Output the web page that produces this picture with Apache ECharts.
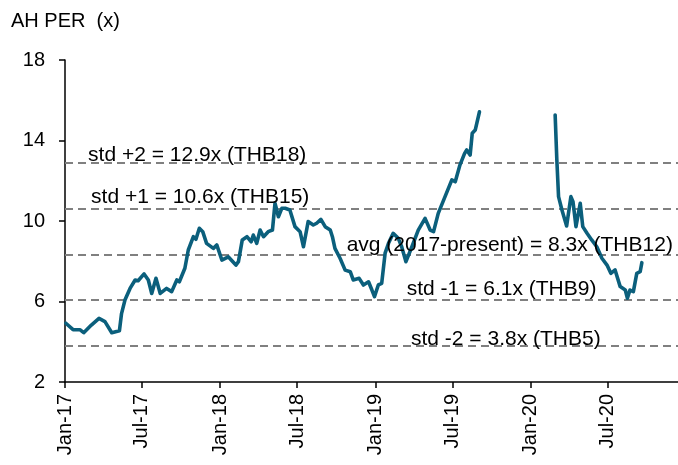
<!DOCTYPE html>
<html>
<head>
<meta charset="utf-8">
<script src="https://cdn.jsdelivr.net/npm/echarts@6/dist/echarts.min.js"></script>
<style>
html,body{margin:0;padding:0;background:#fff;}
#chart{width:678px;height:465px;}
</style>
</head>
<body>
<div id="chart"></div>
<script>
var dates = [
'2017-01-03','2017-01-20','2017-02-05','2017-02-14','2017-03-04','2017-03-22','2017-04-05','2017-04-21','2017-05-09','2017-05-14',
'2017-05-22','2017-06-03','2017-06-15','2017-06-22','2017-07-06','2017-07-16','2017-07-24','2017-08-03','2017-08-13','2017-08-28',
'2017-09-09','2017-09-21','2017-09-27','2017-10-10','2017-10-18','2017-10-30','2017-11-05','2017-11-13','2017-11-21','2017-11-30',
'2017-12-16','2017-12-24','2018-01-05','2018-01-20','2018-02-07','2018-02-13','2018-02-22','2018-03-05','2018-03-15','2018-03-20',
'2018-03-28','2018-04-05','2018-04-13','2018-04-24','2018-05-04','2018-05-10','2018-05-18','2018-05-26','2018-06-03','2018-06-14',
'2018-06-26','2018-07-08','2018-07-16','2018-07-27','2018-08-08','2018-08-16','2018-08-26','2018-09-05','2018-09-17','2018-09-22',
'2018-09-28','2018-10-10','2018-10-22','2018-11-03','2018-11-10','2018-11-24','2018-12-04','2018-12-16','2018-12-24','2018-12-30',
'2019-01-08','2019-01-16','2019-01-24','2019-02-01','2019-02-12','2019-02-24','2019-03-04','2019-03-14','2019-03-28','2019-04-12',
'2019-04-28','2019-05-10','2019-05-18','2019-05-29','2019-06-14','2019-06-30','2019-07-08','2019-07-19','2019-07-30','2019-08-04',
'2019-08-12','2019-08-17','2019-08-24','2019-09-03',
'2019-12-01',
'2020-02-28','2020-03-03','2020-03-07','2020-03-15','2020-03-26','2020-04-05','2020-04-10','2020-04-17','2020-04-27','2020-05-03',
'2020-05-13','2020-05-24','2020-06-05','2020-06-17','2020-06-29','2020-07-08','2020-07-18','2020-07-30','2020-08-11','2020-08-16',
'2020-08-22','2020-08-30','2020-09-07','2020-09-15','2020-09-19'
];
var perValues = [
4.92,4.60,4.60,4.45,4.83,5.16,5.00,4.45,4.55,5.40,
6.07,6.65,7.07,7.03,7.37,7.07,6.40,7.15,6.40,6.65,
6.49,7.07,6.98,7.65,8.56,9.22,9.09,9.64,9.47,8.89,
8.64,8.81,8.06,8.22,7.81,7.98,9.06,9.22,8.97,9.30,
8.89,9.55,9.22,9.47,9.55,10.88,10.21,10.63,10.63,10.55,
9.72,9.47,8.72,9.97,9.80,9.89,10.08,9.72,9.55,9.22,
8.64,8.15,7.56,7.48,7.07,7.15,6.82,6.98,6.57,6.24,
6.82,6.90,8.40,8.89,9.39,9.14,8.72,7.98,8.72,9.55,
10.13,9.55,9.47,10.38,11.21,12.04,11.95,12.78,13.36,13.53,
13.28,14.36,14.52,15.43,
null,
15.27,13.03,11.21,10.55,9.75,11.21,10.96,9.72,10.88,9.72,
9.39,9.06,8.72,8.15,7.81,7.40,7.57,6.74,6.57,6.16,
6.57,6.49,7.40,7.48,7.93
];
var bandNames = ['std +2','std +1','avg (2017-present)','std -1','std -2'];
var bandValues = [12.9, 10.6, 8.3, 6.1, 3.8];
var bandPrices = ['THB18','THB15','THB12','THB9','THB5'];
var tickDates = ['2017-01-01','2017-07-01','2018-01-01','2018-07-01','2019-01-01','2019-07-01','2020-01-01','2020-07-01'];
var tickLabels = ['Jan-17','Jul-17','Jan-18','Jul-18','Jan-19','Jul-19','Jan-20','Jul-20'];
var yTicks = [2, 6, 10, 14, 18];

function ts(s){ var p = s.split('-'); return Date.UTC(+p[0], +p[1]-1, +p[2]); }
var tickTs = tickDates.map(ts);
var seriesData = dates.map(function(d,i){ return [ts(d), perValues[i]]; });

// label anchor dates (layout only)
var labelAnchors = ['2017-11-08','2017-11-15','2020-12-01','2019-10-25','2019-11-04'];
var labelOffsets = [-7, -12, -10, -10, -7];
var labelAlign = ['center','center','right','center','center'];

var FONT = '"Liberation Sans", Arial, sans-serif';
var chart = echarts.init(document.getElementById('chart'), null, {renderer:'canvas'});
chart.setOption({
  animation: false,
  backgroundColor: '#ffffff',
  title: {
    text: 'AH PER  (x)', left: 6, top: 6,
    textStyle: {fontFamily: FONT, fontSize: 20, fontWeight: 'normal', color: '#000'}
  },
  grid: {left: 65, right: 0, top: 60, bottom: 83, containLabel: false},
  xAxis: {
    type: 'value',
    min: ts('2017-01-01'), max: ts('2020-12-13'),
    axisLine: {lineStyle: {color: '#000', width: 1.5}},
    axisTick: {show: true, length: 6, lineStyle: {color: '#000', width: 1.5}, customValues: tickTs},
    axisLabel: {
      customValues: tickTs, rotate: 90, margin: 12,
      fontFamily: FONT, fontSize: 20, color: '#000',
      formatter: function(v){
        var best = 0, bd = Infinity;
        for (var i=0;i<tickTs.length;i++){ var dd = Math.abs(tickTs[i]-v); if (dd<bd){bd=dd;best=i;} }
        return tickLabels[best];
      }
    },
    splitLine: {show: false}
  },
  yAxis: {
    type: 'value', min: yTicks[0], max: yTicks[yTicks.length-1], interval: 4,
    axisLine: {show: true, lineStyle: {color: '#000', width: 1.5}},
    axisTick: {show: true, length: 6, lineStyle: {color: '#000', width: 1.5}},
    axisLabel: {margin: 20, fontFamily: FONT, fontSize: 20, color: '#000'},
    splitLine: {show: false}
  },
  series: [{
    type: 'line',
    data: seriesData,
    showSymbol: false,
    symbol: 'none',
    connectNulls: false,
    lineStyle: {color: '#0b5f7c', width: 3.6, join: 'round', cap: 'round'},
    z: 3,
    markLine: {
      silent: true, symbol: ['none','none'],
      lineStyle: {color: '#808080', type: [8,5], width: 2},
      label: {show: false},
      data: bandValues.map(function(v){ return {yAxis: v}; }),
      z: 2
    },
    markPoint: {
      silent: true,
      symbol: 'circle', symbolSize: 0,
      data: bandValues.map(function(v,i){
        return {
          coord: [ts(labelAnchors[i]), v],
          label: {
            show: true, position: 'inside', align: labelAlign[i], verticalAlign: 'middle',
            offset: [0, labelOffsets[i]],
            formatter: bandNames[i] + ' = ' + v.toFixed(1) + 'x (' + bandPrices[i] + ')',
            fontFamily: FONT, fontSize: 21, color: '#000'
          }
        };
      }),
      z: 5
    }
  }]
});
</script>
</body>
</html>
